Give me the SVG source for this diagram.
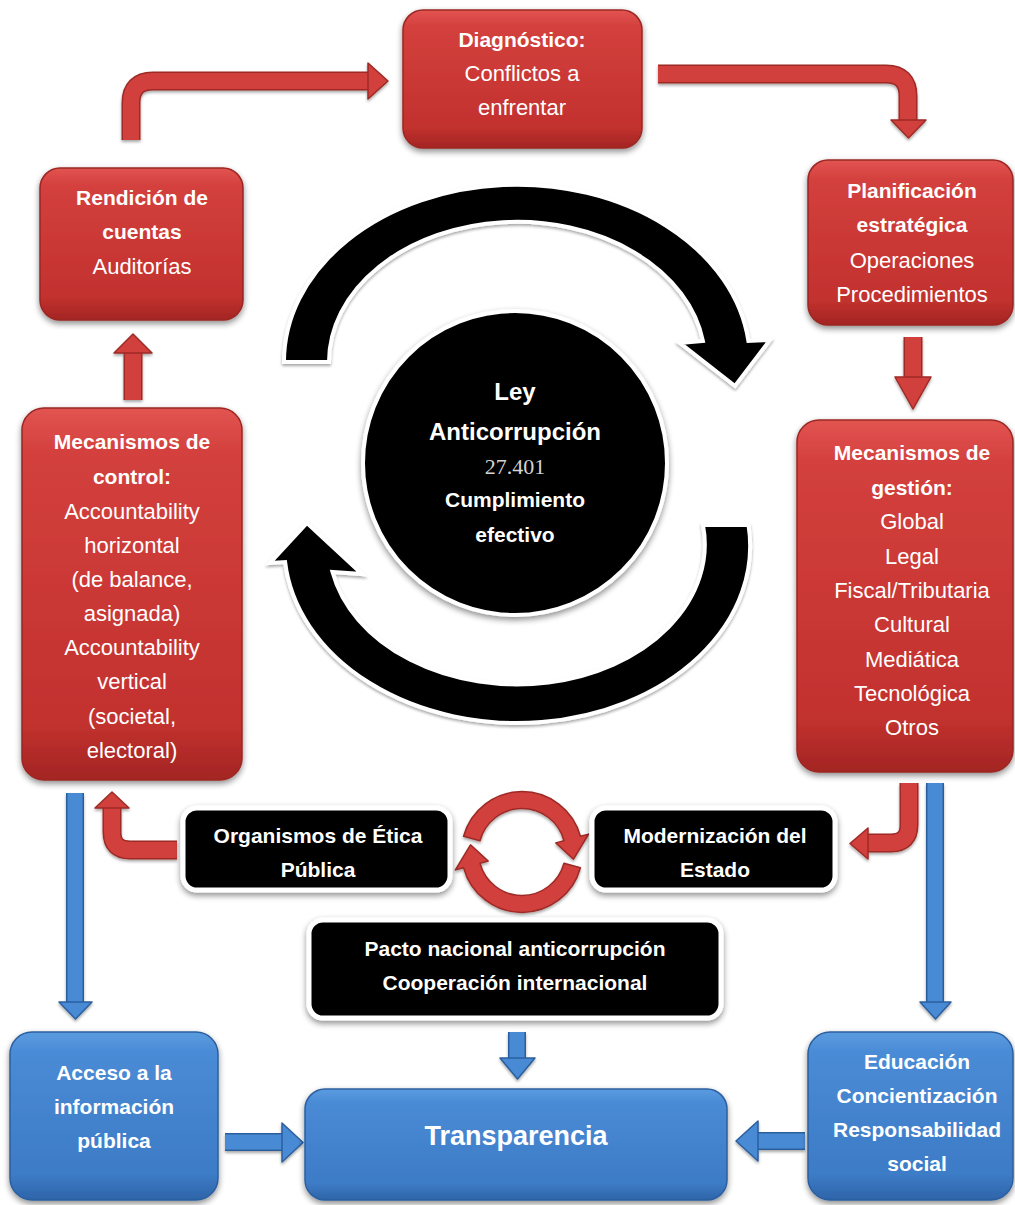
<svg xmlns="http://www.w3.org/2000/svg" width="1015" height="1205" viewBox="0 0 1015 1205">
<defs>
<linearGradient id="redG" x1="0" y1="0" x2="0" y2="1">
<stop offset="0" stop-color="#e25451"/>
<stop offset="0.12" stop-color="#d3403d"/>
<stop offset="0.85" stop-color="#c2312e"/>
<stop offset="1" stop-color="#a32523"/>
</linearGradient>
<linearGradient id="blueG" x1="0" y1="0" x2="0" y2="1">
<stop offset="0" stop-color="#5b9ce0"/>
<stop offset="0.12" stop-color="#4a8bd6"/>
<stop offset="0.85" stop-color="#3d7bc6"/>
<stop offset="1" stop-color="#2e64a8"/>
</linearGradient>
<filter id="sh" x="-20%" y="-20%" width="140%" height="150%">
<feGaussianBlur in="SourceAlpha" stdDeviation="3"/>
<feOffset dy="3" result="o"/>
<feComponentTransfer><feFuncA type="linear" slope="0.45"/></feComponentTransfer>
<feMerge><feMergeNode/><feMergeNode in="SourceGraphic"/></feMerge>
</filter>
<filter id="sh2" x="-20%" y="-20%" width="140%" height="150%">
<feGaussianBlur in="SourceAlpha" stdDeviation="1.5"/>
<feOffset dy="2" result="o"/>
<feComponentTransfer><feFuncA type="linear" slope="0.35"/></feComponentTransfer>
<feMerge><feMergeNode/><feMergeNode in="SourceGraphic"/></feMerge>
</filter>
<style>
.rbox{fill:url(#redG);stroke:#9b2624;stroke-width:1.5;filter:url(#sh)}
.bbox{fill:url(#blueG);stroke:#2c5f9f;stroke-width:1.5;filter:url(#sh)}
.kbox{fill:#000;stroke:#fff;stroke-width:5;filter:url(#sh)}
.b{font-family:"Liberation Sans",Arial,sans-serif;font-weight:bold;font-size:21px;fill:#fff;text-anchor:middle}
.r{font-family:"Liberation Sans",Arial,sans-serif;font-size:22px;fill:#fff;text-anchor:middle}
.redo{fill:none;stroke:#9e2a27;stroke-width:19}
.redb{fill:none;stroke:#d2403c;stroke-width:16}
.redh{fill:#d2403c;stroke:#9e2a27;stroke-width:1.5;stroke-linejoin:round}
.blo{fill:none;stroke:#2b5f9e;stroke-width:18}
.blb{fill:none;stroke:#4a8ad4;stroke-width:15}
.blh{fill:#4a8ad4;stroke:#2b5f9e;stroke-width:1.5;stroke-linejoin:round}
.ring{fill:#000;stroke:#fff;stroke-width:4;filter:url(#sh2)}
.sring{fill:#d2403c;stroke:#9e2a27;stroke-width:1.5;stroke-linejoin:round;filter:url(#sh2)}
</style>
</defs>
<rect width="1015" height="1205" fill="#fff"/>

<g id="connectors">
<g filter="url(#sh2)">
<path class="redo" d="M131 140 V103 Q131 81 153 81 H369"/>
<path class="redb" d="M131 140 V103 Q131 81 153 81 H369"/>
<polygon class="redh" points="368,63 388,81 368,99"/>
</g>
<g filter="url(#sh2)">
<path class="redo" d="M658 74 H886 Q908 74 908 96 V121"/>
<path class="redb" d="M658 74 H886 Q908 74 908 96 V121"/>
<polygon class="redh" points="891,120 926,120 908.5,138"/>
</g>
<g filter="url(#sh2)">
<path class="redo" d="M913 337 V378"/>
<path class="redb" d="M913 337 V378"/>
<polygon class="redh" points="895,377 931,377 913,409"/>
</g>
<g filter="url(#sh2)">
<path class="redo" d="M133 400 V352"/>
<path class="redb" d="M133 400 V352"/>
<polygon class="redh" points="114,353 152,353 133,334"/>
</g>
<g filter="url(#sh2)">
<path class="redo" d="M909 783 V825 Q909 843 891 843 H867"/>
<path class="redb" d="M909 783 V825 Q909 843 891 843 H867"/>
<polygon class="redh" points="868,828 868,859 850,843.5"/>
</g>
<g filter="url(#sh2)">
<path class="redo" d="M177 850 H130 Q112 850 112 832 V807"/>
<path class="redb" d="M177 850 H130 Q112 850 112 832 V807"/>
<polygon class="redh" points="95,808 129,808 112,792"/>
</g>
<g filter="url(#sh2)">
<path class="blo" d="M75 793 V1003"/>
<path class="blb" d="M75 793 V1003"/>
<polygon class="blh" points="59,1002 92,1002 75.5,1019"/>
</g>
<g filter="url(#sh2)">
<path class="blo" d="M935 783 V1003"/>
<path class="blb" d="M935 783 V1003"/>
<polygon class="blh" points="920,1002 951,1002 935.5,1019"/>
</g>
<g filter="url(#sh2)">
<path class="blo" d="M517 1032 V1059"/>
<path class="blb" d="M517 1032 V1059"/>
<polygon class="blh" points="500,1058 535,1058 517.5,1079"/>
</g>
<g filter="url(#sh2)">
<path class="blo" d="M225 1142 H283"/>
<path class="blb" d="M225 1142 H283"/>
<polygon class="blh" points="282,1123 282,1162 303,1142.5"/>
</g>
<g filter="url(#sh2)">
<path class="blo" d="M805 1141 H757"/>
<path class="blb" d="M805 1141 H757"/>
<polygon class="blh" points="758,1121 758,1161 736,1141"/>
</g>
<path class="ring" d="M284 362 A233 177 0 0 1 748.4 341 L770 340 L735 386 L680 343 L702.9 341 A188 140 0 0 0 329 362 Z"/>
<path class="ring" d="M748.5 525 A233 177 0 1 1 285.1 562 L270 563 L307 523 L362 574 L332.5 572 A188 140 0 0 0 703 525 Z"/>
<path class="sring" d="M463.6 836.3 A60.5 60.5 0 0 1 580.4 836.3 L588.6 834.1 L573.5 859.2 L555.8 842.9 L564 840.7 A43.5 43.5 0 0 0 480 840.7 Z"/>
<path class="sring" d="M580.4 867.7 A60.5 60.5 0 0 1 463.6 867.7 L455.4 869.9 L470.5 844.8 L488.2 861.1 L480 863.3 A43.5 43.5 0 0 0 564 863.3 Z"/>
</g>

<g id="ley">
<ellipse cx="515" cy="463" rx="152" ry="152" fill="#000" stroke="#fff" stroke-width="4" filter="url(#sh)"/>
<text class="b" x="515" y="400" style="font-size:24px">Ley</text>
<text class="b" x="515" y="440" style="font-size:24px">Anticorrupción</text>
<text x="515" y="474" style="font-family:'Liberation Serif','Times New Roman',serif;font-size:22px;fill:#d4d4d4;text-anchor:middle">27.401</text>
<text class="b" x="515" y="507">Cumplimiento</text>
<text class="b" x="515" y="542">efectivo</text>
</g>

<g id="diagnostico">
<rect class="rbox" x="403" y="10" width="239" height="138" rx="20"/>
<text class="b" x="522" y="47">Diagnóstico:</text>
<text class="r" x="522" y="81">Conflictos a</text>
<text class="r" x="522" y="115">enfrentar</text>
</g>

<g id="rendicion">
<rect class="rbox" x="40" y="168" width="203" height="152" rx="20"/>
<text class="b" x="142" y="205">Rendición de</text>
<text class="b" x="142" y="239">cuentas</text>
<text class="r" x="142" y="274">Auditorías</text>
</g>

<g id="planificacion">
<rect class="rbox" x="808" y="160" width="205" height="165" rx="20"/>
<text class="b" x="912" y="198">Planificación</text>
<text class="b" x="912" y="232">estratégica</text>
<text class="r" x="912" y="268">Operaciones</text>
<text class="r" x="912" y="302">Procedimientos</text>
</g>

<g id="gestion">
<rect class="rbox" x="797" y="420" width="216" height="352" rx="22"/>
<text class="b" x="912" y="460">Mecanismos de</text>
<text class="b" x="912" y="495">gestión:</text>
<text class="r" x="912" y="529">Global</text>
<text class="r" x="912" y="564">Legal</text>
<text class="r" x="912" y="598">Fiscal/Tributaria</text>
<text class="r" x="912" y="632">Cultural</text>
<text class="r" x="912" y="667">Mediática</text>
<text class="r" x="912" y="701">Tecnológica</text>
<text class="r" x="912" y="735">Otros</text>
</g>

<g id="control">
<rect class="rbox" x="22" y="408" width="220" height="372" rx="22"/>
<text class="b" x="132" y="449">Mecanismos de</text>
<text class="b" x="132" y="484">control:</text>
<text class="r" x="132" y="519">Accountability</text>
<text class="r" x="132" y="553">horizontal</text>
<text class="r" x="132" y="587">(de balance,</text>
<text class="r" x="132" y="621">asignada)</text>
<text class="r" x="132" y="655">Accountability</text>
<text class="r" x="132" y="689">vertical</text>
<text class="r" x="132" y="724">(societal,</text>
<text class="r" x="132" y="758">electoral)</text>
</g>

<g id="organismos">
<rect class="kbox" x="183" y="808" width="267" height="82" rx="14"/>
<text class="b" x="318" y="843">Organismos de Ética</text>
<text class="b" x="318" y="877">Pública</text>
</g>

<g id="modernizacion">
<rect class="kbox" x="592" y="808" width="243" height="82" rx="14"/>
<text class="b" x="715" y="843">Modernización del</text>
<text class="b" x="715" y="877">Estado</text>
</g>

<g id="pacto">
<rect class="kbox" x="309" y="920" width="412" height="98" rx="14"/>
<text class="b" x="515" y="956">Pacto nacional anticorrupción</text>
<text class="b" x="515" y="990">Cooperación internacional</text>
</g>

<g id="acceso">
<rect class="bbox" x="10" y="1032" width="208" height="168" rx="22"/>
<text class="b" x="114" y="1080">Acceso a la</text>
<text class="b" x="114" y="1114">información</text>
<text class="b" x="114" y="1148">pública</text>
</g>

<g id="transparencia">
<rect class="bbox" x="305" y="1089" width="422" height="111" rx="20"/>
<text class="b" x="516" y="1145" style="font-size:27px">Transparencia</text>
</g>

<g id="educacion">
<rect class="bbox" x="808" y="1032" width="205" height="168" rx="22"/>
<text class="b" x="917" y="1069">Educación</text>
<text class="b" x="917" y="1103">Concientización</text>
<text class="b" x="917" y="1137">Responsabilidad</text>
<text class="b" x="917" y="1171">social</text>
</g>
</svg>
